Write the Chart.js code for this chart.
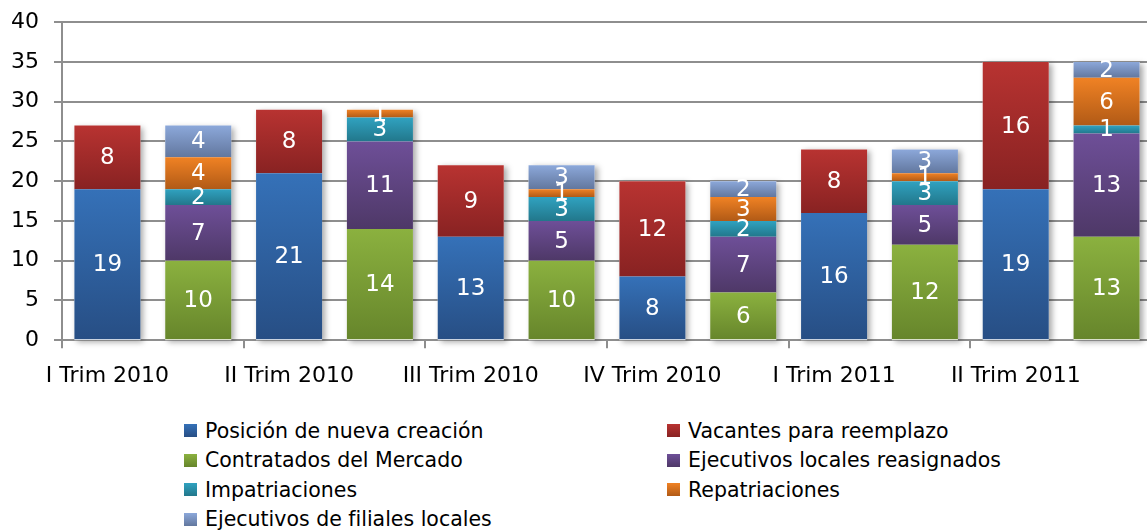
<!DOCTYPE html>
<html lang="es">
<head>
<meta charset="UTF-8">
<title>Contrataciones por trimestre</title>
<script src="https://cdn.jsdelivr.net/npm/chart.js"></script>
<style>
  html, body { margin: 0; padding: 0; background: #fff; overflow: hidden; }
  body { width: 1147px; height: 531px; position: relative; font-family: 'DejaVu Sans', sans-serif; }
  .chart-box { position: absolute; left: 0; top: 0; width: 1152px; height: 400px; }
  .legend {
    position: absolute; left: 184px; top: 416px;
    display: grid; grid-template-columns: 483px 420px; grid-auto-rows: 29.5px;
    font-size: 20.5px; color: #000;
  }
  .legend-item { display: flex; align-items: center; white-space: nowrap; }
  .legend-box { width: 13px; height: 13px; margin-right: 8px; }
</style>
</head>
<body>
<div class="chart-box" id="caja"><canvas id="grafico"></canvas></div>
<div class="legend" id="leyenda"></div>
<script>
// trimestres (cada uno tiene dos barras)
const trimestres = ['I Trim 2010', 'II Trim 2010', 'III Trim 2010', 'IV Trim 2010', 'I Trim 2011', 'II Trim 2011'];

// primera barra de cada trimestre
const posicionNueva = [19, 21, 13, 8, 16, 19];
const vacantes = [8, 8, 9, 12, 8, 16];

// segunda barra de cada trimestre
const contratados = [10, 14, 10, 6, 12, 13];
const ejecLocales = [7, 11, 5, 7, 5, 13];
const impatriaciones = [2, 3, 3, 2, 3, 1];
const repatriaciones = [4, 1, 1, 3, 1, 6];
const ejecFiliales = [4, 0, 3, 2, 3, 2];

const yTicks = { min: 0, max: 40, step: 5 };

// etiquetas: una por trimestre, la segunda barra va sin texto
const categorias = [];
trimestres.forEach(t => { categorias.push(t); categorias.push(''); });

function enBarra(valores, pos) {
  const out = [];
  valores.forEach(v => { out.push(pos === 0 ? v : null); out.push(pos === 1 ? v : null); });
  return out;
}

function gradiente(arriba, abajo) {
  return function (ctx) {
    const chart = ctx.chart;
    if (!chart.chartArea || ctx.type !== 'data') return arriba;
    const y = chart.scales.y;
    const ds = ctx.datasetIndex, i = ctx.dataIndex;
    let base = 0;
    for (let k = 0; k < ds; k++) base += chart.data.datasets[k].data[i] || 0;
    const v = chart.data.datasets[ds].data[i] || 0;
    const y0 = y.getPixelForValue(base + v), y1 = y.getPixelForValue(base);
    if (!(y1 > y0)) return arriba;
    const g = chart.ctx.createLinearGradient(0, y0, 0, y1);
    g.addColorStop(0, arriba);
    g.addColorStop(1, abajo);
    return g;
  };
}

const series = [
  { label: 'Posición de nueva creación', data: enBarra(posicionNueva, 0), c: ['#3571B8', '#274E84'] },
  { label: 'Vacantes para reemplazo', data: enBarra(vacantes, 0), c: ['#B83331', '#882222'] },
  { label: 'Contratados del Mercado', data: enBarra(contratados, 1), c: ['#8BB13F', '#66852B'] },
  { label: 'Ejecutivos locales reasignados', data: enBarra(ejecLocales, 1), c: ['#6E4F98', '#4E3867'] },
  { label: 'Impatriaciones', data: enBarra(impatriaciones, 1), c: ['#30A2C0', '#22778B'] },
  { label: 'Repatriaciones', data: enBarra(repatriaciones, 1), c: ['#F08224', '#B15A16'] },
  { label: 'Ejecutivos de filiales locales', data: enBarra(ejecFiliales, 1), c: ['#8CA8DA', '#62779E'] }
];

// sombra detrás de cada barra completa
const sombraBarras = {
  id: 'sombraBarras',
  beforeDatasetsDraw(chart) {
    const ctx = chart.ctx;
    const y = chart.scales.y;
    const metas = chart.getSortedVisibleDatasetMetas();
    ctx.save();
    ctx.shadowColor = 'rgba(0,0,0,0.35)';
    ctx.shadowBlur = 6;
    ctx.shadowOffsetX = 3;
    ctx.shadowOffsetY = 2;
    ctx.fillStyle = '#fff';
    for (let i = 0; i < categorias.length; i++) {
      let top = null, x = null, w = null;
      metas.forEach(m => {
        const v = chart.data.datasets[m.index].data[i];
        const el = m.data[i];
        if (!v || !el) return;
        if (top === null || el.y < top) top = el.y;
        x = el.x; w = el.width;
      });
      if (top === null) continue;
      const base = y.getPixelForValue(0);
      ctx.fillRect(x - w / 2, top, w, base - top);
    }
    ctx.restore();
  }
};

// valores dentro de cada segmento
const valores = {
  id: 'valores',
  afterDatasetsDraw(chart) {
    const ctx = chart.ctx;
    ctx.save();
    ctx.fillStyle = '#fff';
    ctx.font = '23px "DejaVu Sans"';
    ctx.textAlign = 'center';
    ctx.textBaseline = 'middle';
    chart.getSortedVisibleDatasetMetas().forEach(m => {
      m.data.forEach((el, i) => {
        const v = chart.data.datasets[m.index].data[i];
        if (!v) return;
        ctx.fillText(String(v), el.x, (el.y + el.base) / 2 + 1);
      });
    });
    ctx.restore();
  }
};

const gris = '#8e8e8e';

const grafico = new Chart(document.getElementById('grafico'), {
  type: 'bar',
  data: {
    labels: categorias,
    datasets: series.map(s => ({
      label: s.label,
      data: s.data,
      backgroundColor: gradiente(s.c[0], s.c[1]),
      borderWidth: 0,
      barPercentage: 0.727,
      categoryPercentage: 1
    }))
  },
  options: {
    responsive: true,
    maintainAspectRatio: false,
    animation: false,
    layout: { padding: { top: 22, right: 0, left: 0, bottom: 0 } },
    plugins: { legend: { display: false }, tooltip: { enabled: false } },
    scales: {
      x: {
        stacked: true,
        afterFit(scale) { scale.height = 60; },
        grid: {
          display: true,
          offset: true,
          drawOnChartArea: false,
          drawTicks: true,
          tickLength: 8,
          lineWidth: 2,
          color: ctx => (ctx.index === undefined || ctx.index % 2 === 0) ? gris : 'rgba(0,0,0,0)'
        },
        border: { color: gris, width: 2 },
        ticks: {
          autoSkip: false, maxRotation: 0, minRotation: 0, padding: 15,
          color: '#000', font: { family: 'DejaVu Sans', size: 22 }
        }
      },
      y: {
        stacked: true,
        min: yTicks.min, max: yTicks.max,
        afterFit(scale) { scale.width = 62; },
        grid: { color: gris, lineWidth: 2, tickLength: 8 },
        border: { color: gris, width: 2 },
        ticks: {
          stepSize: yTicks.step, padding: 15,
          color: '#000', font: { family: 'DejaVu Sans', size: 22 }
        }
      }
    }
  },
  plugins: [sombraBarras, valores]
});

// el área del gráfico debe empezar en y=22 y terminar en y=340
const dif = grafico.chartArea.top - 22;
if (Math.abs(dif) > 0.5) {
  const caja = document.getElementById('caja');
  caja.style.top = (-dif) + 'px';
  caja.style.height = (400 + dif) + 'px';
  grafico.resize();
}

// leyenda en dos columnas (orden por filas)
const leyenda = document.getElementById('leyenda');
series.forEach(s => {
  const item = document.createElement('div');
  item.className = 'legend-item';
  const box = document.createElement('span');
  box.className = 'legend-box';
  box.style.background = 'linear-gradient(to bottom, ' + s.c[0] + ', ' + s.c[1] + ')';
  const txt = document.createElement('span');
  txt.textContent = s.label;
  item.appendChild(box);
  item.appendChild(txt);
  leyenda.appendChild(item);
});
</script>
</body>
</html>
